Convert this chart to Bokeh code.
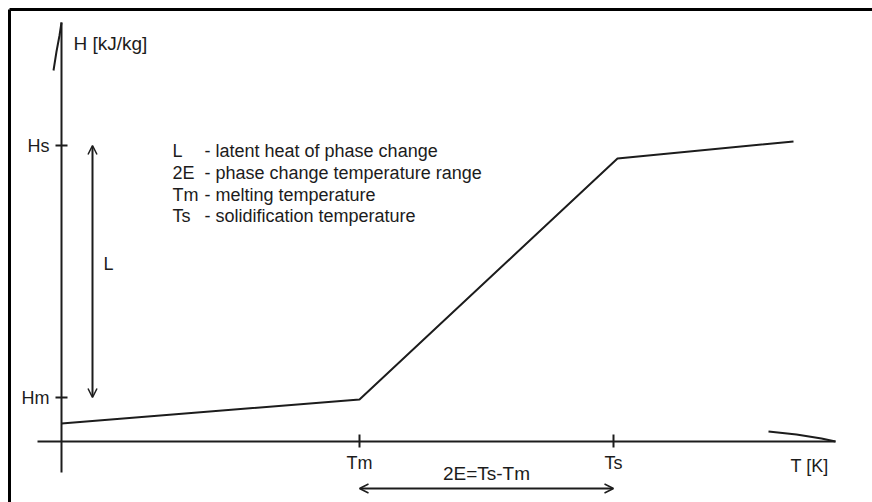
from bokeh.plotting import figure
from bokeh.models import Range1d, Arrow, OpenHead
from bokeh.core.properties import value
from bokeh.embed import file_html
from bokeh.resources import INLINE

# ---- data (schematic units: 1 unit of T or H) ----
curve_T = [0.0, 29.8, 55.6, 73.2]
curve_H = [1.8, 4.2, 28.3, 30.0]

T_ticks = [29.8, 55.2]
T_tick_labels = ["Tm", "Ts"]
H_ticks = [4.4, 29.6]
H_tick_labels = ["Hm", "Hs"]

legend_symbols = ["L", "2E", "Tm", "Ts"]
legend_texts = ["- latent heat of phase change",
                "- phase change temperature range",
                "- melting temperature",
                "- solidification temperature"]

x_label = "T [K]"
y_label = "H [kJ/kg]"
L_label = "L"
range_label = "2E=Ts-Tm"

FONT = value("Liberation Sans")
FS = "18px"
INK = "#1c1c1c"

p = figure(width=872, height=502, output_backend="svg", toolbar_location=None,
           x_range=Range1d(-6.1, 81.1), y_range=Range1d(-6.1, 44.1),
           min_border=0, min_border_left=0, min_border_right=0,
           min_border_top=0, min_border_bottom=0)
p.axis.visible = False
p.grid.visible = False
p.outline_line_color = None
p.background_fill_color = "white"
p.border_fill_color = "white"

# frame (top and left edges)
p.line([-5.2, 81.1], [43.2, 43.2], line_color="black", line_width=3)
p.line([-5.2, -5.2], [-6.1, 43.2], line_color="black", line_width=3)

# axes
p.line([0, 0], [-3.1, 41.9], line_color=INK, line_width=2)
p.line([-2.4, 77.4], [0, 0], line_color=INK, line_width=2)
# hand-drawn strokes at the axis ends
p.line([-0.8, -0.5, -0.2, 0.0], [37.1, 39.0, 40.6, 41.9], line_color=INK, line_width=2)
p.line([70.7, 73.5, 76.0, 77.4], [1.0, 0.7, 0.3, 0.0], line_color=INK, line_width=2)

# ticks
for t in T_ticks:
    p.line([t, t], [-0.6, 0.7], line_color=INK, line_width=2)
for h in H_ticks:
    p.line([-0.6, 0.6], [h, h], line_color=INK, line_width=2)

# enthalpy curve
p.line(curve_T, curve_H, line_color=INK, line_width=2)

# tick labels
p.text(x=T_ticks, y=[-1.1] * 2, text=T_tick_labels, text_align="center",
       text_baseline="top", text_font=FONT, text_font_size=FS, text_color=INK)
p.text(x=[-1.2] * 2, y=H_ticks, text=H_tick_labels, text_align="right",
       text_baseline="middle", text_font=FONT, text_font_size=FS, text_color=INK)

# axis labels
p.text(x=[1.2], y=[39.8], text=[y_label], text_align="left", text_baseline="middle",
       text_font=FONT, text_font_size="19px", text_color=INK)
p.text(x=[72.9], y=[-2.4], text=[x_label], text_align="left", text_baseline="middle",
       text_font=FONT, text_font_size=FS, text_color=INK)

# legend of symbols
leg_y = [29.1, 26.9, 24.7, 22.6]
p.text(x=[11.1] * 4, y=leg_y, text=legend_symbols, text_align="left", text_baseline="middle",
       text_font=FONT, text_font_size=FS, text_color=INK)
p.text(x=[14.3] * 4, y=leg_y, text=legend_texts, text_align="left", text_baseline="middle",
       text_font=FONT, text_font_size=FS, text_color=INK)

# L double arrow
p.add_layout(Arrow(start=OpenHead(size=9, line_color=INK, line_width=1.5),
                   end=OpenHead(size=9, line_color=INK, line_width=1.5),
                   x_start=3.1, y_start=H_ticks[0], x_end=3.1, y_end=H_ticks[1],
                   line_color=INK, line_width=2))
p.text(x=[4.2], y=[17.8], text=[L_label], text_align="left", text_baseline="middle",
       text_font=FONT, text_font_size=FS, text_color=INK)

# 2E double arrow
p.add_layout(Arrow(start=OpenHead(size=9, line_color=INK, line_width=1.5),
                   end=OpenHead(size=9, line_color=INK, line_width=1.5),
                   x_start=T_ticks[0], y_start=-4.7, x_end=T_ticks[1], y_end=-4.7,
                   line_color=INK, line_width=2))
p.text(x=[(T_ticks[0] + T_ticks[1]) / 2], y=[-3.2], text=[range_label], text_align="center",
       text_baseline="middle", text_font=FONT, text_font_size="19px", text_color=INK)

open("out.html", "w").write(file_html(p, INLINE))
